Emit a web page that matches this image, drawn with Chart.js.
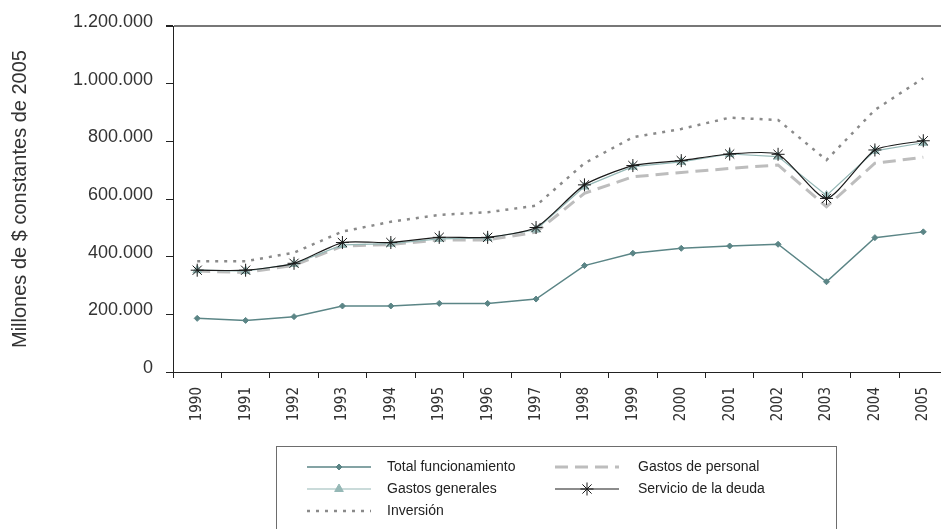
<!DOCTYPE html>
<html><head><meta charset="utf-8">
<script src="https://cdn.jsdelivr.net/npm/chart.js@4"></script>
<style>html,body{margin:0;padding:0;overflow:hidden;background:#fff;width:941px;height:529px}canvas{display:block}</style>
</head><body><canvas id="c" width="955" height="529" style="width:955px;height:529px"></canvas>
<script>
const years = ['1990','1991','1992','1993','1994','1995','1996','1997','1998','1999','2000','2001','2002','2003','2004','2005'];
const totalFuncionamiento = [186000,179000,192000,229000,229000,238000,238000,253000,369000,412000,429000,437000,443000,313000,466000,486000];
const gastosPersonal = [350000,345000,370000,437000,442000,458000,458000,485000,620000,677000,692000,706000,718000,573000,724000,745000];
const gastosGenerales = [353000,350000,375000,441000,445000,462000,465000,494000,643000,712000,729000,756000,747000,612000,767000,795000];
const servicioDeuda = [353000,353000,377000,449000,449000,467000,467000,501000,649000,716000,733000,756000,755000,602000,770000,802000];
const inversion = [384000,384000,414000,487000,521000,545000,554000,577000,724000,814000,843000,882000,874000,735000,909000,1019000];
const yTickLabels = ['0','200.000','400.000','600.000','800.000','1.000.000','1.200.000'];

const FONT = '"Liberation Sans", Arial, sans-serif';

const legendPlugin = {
  id: 'boxLegend',
  afterDraw(chart) {
    const ctx = chart.ctx;
    ctx.save();
    ctx.strokeStyle = '#6d6d6d';
    ctx.lineWidth = 1;
    ctx.strokeRect(276.5, 446.5, 560, 120);
    const items = [
      {ds: 1, x: 307, y: 467}, {ds: 3, x: 555, y: 467},
      {ds: 2, x: 307, y: 489}, {ds: 0, x: 555, y: 489},
      {ds: 4, x: 307, y: 511}
    ];
    items.forEach(it => {
      const ds = chart.data.datasets[it.ds];
      ctx.save();
      ctx.strokeStyle = ds.borderColor;
      ctx.lineWidth = ds.borderWidth;
      ctx.setLineDash(ds.borderDash || []);
      ctx.beginPath();
      ctx.moveTo(it.x, it.y);
      ctx.lineTo(it.x + 64, it.y);
      ctx.stroke();
      ctx.setLineDash([]);
      if (ds.pointRadius > 0) {
        ctx.fillStyle = ds.pointBackgroundColor;
        ctx.strokeStyle = ds.pointBorderColor;
        ctx.lineWidth = ds.pointBorderWidth || 1;
        Chart.helpers.drawPoint(ctx, {pointStyle: ds.pointStyle, radius: ds.pointRadius, borderWidth: ds.pointBorderWidth || 1, rotation: 0}, it.x + 32, it.y);
      }
      ctx.restore();
      ctx.fillStyle = '#222';
      ctx.font = '14px ' + FONT;
      ctx.textBaseline = 'middle';
      ctx.textAlign = 'left';
      ctx.fillText(ds.label, it.x + (it.ds === 3 || it.ds === 0 ? 83 : 80), it.y);
    });
    ctx.restore();
  }
};

new Chart(document.getElementById('c'), {
  type: 'line',
  data: {
    labels: years,
    datasets: [
      {label: 'Servicio de la deuda', data: servicioDeuda, borderColor: '#1a1a1a', borderWidth: 1.2, pointStyle: 'star', pointRadius: 6.5, pointBorderColor: '#1a1a1a', pointBackgroundColor: '#1a1a1a', pointBorderWidth: 1, tension: 0.2, order: 1},
      {label: 'Total funcionamiento', data: totalFuncionamiento, borderColor: '#5b8586', borderWidth: 1.5, pointStyle: 'rectRot', pointRadius: 3, pointBorderColor: '#5b8586', pointBackgroundColor: '#5b8586', pointBorderWidth: 1, tension: 0, order: 0},
      {label: 'Gastos generales', data: gastosGenerales, borderColor: '#95b8b6', borderWidth: 1.2, pointStyle: 'triangle', pointRadius: 5, pointBorderColor: '#95b8b6', pointBackgroundColor: '#95b8b6', pointBorderWidth: 1, tension: 0, order: 2},
      {label: 'Gastos de personal', data: gastosPersonal, borderColor: '#bdbdbd', borderWidth: 3, borderDash: [13, 7], pointRadius: 0, tension: 0, order: 3},
      {label: 'Inversión', data: inversion, borderColor: '#8a8a8a', borderWidth: 2.5, borderDash: [3, 6], pointRadius: 0, tension: 0, order: 4}
    ]
  },
  options: {
    responsive: false,
    animation: false,
    events: [],
    layout: {padding: {top: 26, right: 6, bottom: 77, left: 0}},
    plugins: {legend: {display: false}, tooltip: {enabled: false}},
    scales: {
      x: {
        offset: true,
        ticks: {autoSkip: false, minRotation: 90, maxRotation: 90, padding: 9, color: '#333', font: {family: '"Liberation Sans Narrow","DejaVu Sans Condensed",sans-serif', size: 15}},
        grid: {drawOnChartArea: false, offset: true, tickLength: 6, tickColor: '#222'},
        border: {color: '#222', width: 1},
        afterFit(s) { s.height = 80; }
      },
      y: {
        min: 0, max: 1200000,
        ticks: {stepSize: 200000, padding: 13, labelOffset: -4, color: '#333', font: {family: FONT, size: 18}, callback: (v, i) => yTickLabels[i]},
        grid: {
          drawOnChartArea: true,
          color: c => (c.tick && c.tick.value === 1200000) ? '#777' : 'rgba(0,0,0,0)',
          lineWidth: c => (c.tick && c.tick.value === 1200000) ? 2 : 1,
          tickColor: '#222', tickLength: 7
        },
        border: {color: '#222', width: 1},
        title: {display: true, text: 'Millones de $ constantes de 2005', color: '#333', font: {family: FONT, size: 20}, padding: {top: 8, bottom: 0}},
        afterFit(s) { s.width = 173; }
      }
    }
  },
  plugins: [legendPlugin]
});
</script></body></html>
